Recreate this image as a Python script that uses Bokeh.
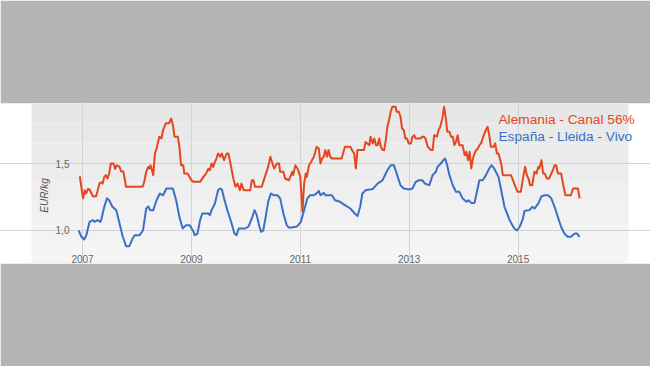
import numpy as np
from bokeh.plotting import figure
from bokeh.models import Range1d, FixedTicker, CustomJSTickFormatter, BoxAnnotation, Label
from bokeh.embed import file_html
from bokeh.resources import INLINE

# ---- data (decimal year, EUR/kg) ----
red_t = [2006.95, 2007.01, 2007.04, 2007.07, 2007.10, 2007.13, 2007.19, 2007.25, 2007.28, 2007.31,
         2007.34, 2007.37, 2007.40, 2007.43, 2007.46, 2007.49, 2007.52, 2007.57, 2007.60, 2007.63,
         2007.68, 2007.71, 2007.75, 2007.78, 2007.80, 2008.08, 2008.11, 2008.14, 2008.17, 2008.21,
         2008.23, 2008.25, 2008.30, 2008.33, 2008.36, 2008.41, 2008.45, 2008.48, 2008.53, 2008.59,
         2008.63, 2008.66, 2008.69, 2008.75, 2008.78, 2008.81, 2008.85, 2008.87, 2008.93, 2009.00,
         2009.04, 2009.16, 2009.22, 2009.27, 2009.31, 2009.34, 2009.37, 2009.40, 2009.43, 2009.46,
         2009.49, 2009.53, 2009.56, 2009.60, 2009.65, 2009.68, 2009.73, 2009.77, 2009.81, 2009.85,
         2009.89, 2009.92, 2009.96, 2010.08, 2010.11, 2010.14, 2010.17, 2010.29, 2010.35, 2010.41,
         2010.45, 2010.49, 2010.52, 2010.57, 2010.61, 2010.63, 2010.69, 2010.72, 2010.79, 2010.83,
         2010.85, 2010.87, 2010.91, 2010.95, 2011.00, 2011.04, 2011.07, 2011.10, 2011.12, 2011.16,
         2011.20, 2011.25, 2011.30, 2011.34, 2011.37, 2011.40, 2011.43, 2011.46, 2011.49, 2011.52,
         2011.55, 2011.58, 2011.76, 2011.82, 2011.92, 2011.95, 2011.99, 2012.02, 2012.05, 2012.17,
         2012.20, 2012.23, 2012.27, 2012.29, 2012.33, 2012.36, 2012.39, 2012.42, 2012.45, 2012.48,
         2012.51, 2012.54, 2012.57, 2012.60, 2012.63, 2012.66, 2012.69, 2012.75, 2012.77, 2012.81,
         2012.84, 2012.87, 2012.90, 2012.93, 2012.96, 2012.99, 2013.03, 2013.06, 2013.09, 2013.12,
         2013.21, 2013.24, 2013.27, 2013.30, 2013.34, 2013.40, 2013.43, 2013.46, 2013.51, 2013.54,
         2013.57, 2013.61, 2013.64, 2013.67, 2013.70, 2013.74, 2013.77, 2013.80, 2013.83, 2013.86,
         2013.89, 2013.92, 2013.98, 2014.02, 2014.05, 2014.08, 2014.11, 2014.14, 2014.17, 2014.20,
         2014.23, 2014.26, 2014.29, 2014.32, 2014.37, 2014.41, 2014.44, 2014.47, 2014.50, 2014.55,
         2014.58, 2014.61, 2014.64, 2014.69, 2014.72, 2014.84, 2014.87, 2014.93, 2014.99, 2015.05,
         2015.10, 2015.13, 2015.16, 2015.19, 2015.22, 2015.26, 2015.30, 2015.34, 2015.37, 2015.39,
         2015.43, 2015.46, 2015.49, 2015.53, 2015.57, 2015.61, 2015.64, 2015.67, 2015.70, 2015.73,
         2015.79, 2015.83, 2015.87, 2015.97, 2016.01, 2016.10, 2016.13]
red_v = [1.405, 1.24, 1.30, 1.276, 1.31, 1.306, 1.256, 1.256, 1.30, 1.35,
         1.36, 1.35, 1.40, 1.413, 1.388, 1.425, 1.50, 1.50, 1.46, 1.487,
         1.475, 1.44, 1.44, 1.375, 1.326, 1.326, 1.33, 1.375, 1.438, 1.475,
         1.463, 1.487, 1.413, 1.575, 1.61, 1.70, 1.687, 1.75, 1.80, 1.80,
         1.836, 1.786, 1.70, 1.70, 1.625, 1.487, 1.487, 1.425, 1.425, 1.375,
         1.363, 1.363, 1.40, 1.425, 1.46, 1.45, 1.50, 1.475, 1.51, 1.537,
         1.575, 1.55, 1.575, 1.525, 1.575, 1.575, 1.475, 1.388, 1.326, 1.35,
         1.30, 1.35, 1.30, 1.30, 1.375, 1.375, 1.326, 1.326, 1.40, 1.475,
         1.55, 1.50, 1.463, 1.50, 1.50, 1.438, 1.438, 1.388, 1.375, 1.413,
         1.438, 1.413, 1.487, 1.463, 1.40, 1.14, 1.35, 1.425, 1.40, 1.487,
         1.513, 1.55, 1.625, 1.612, 1.50, 1.537, 1.55, 1.60, 1.55, 1.60,
         1.55, 1.537, 1.537, 1.625, 1.625, 1.60, 1.575, 1.463, 1.60, 1.60,
         1.66, 1.65, 1.637, 1.70, 1.65, 1.687, 1.637, 1.637, 1.687, 1.625,
         1.60, 1.60, 1.674, 1.774, 1.824, 1.886, 1.923, 1.923, 1.886, 1.886,
         1.849, 1.761, 1.75, 1.687, 1.687, 1.65, 1.65, 1.70, 1.711, 1.687,
         1.687, 1.70, 1.70, 1.687, 1.625, 1.60, 1.60, 1.711, 1.70, 1.75,
         1.774, 1.836, 1.923, 1.849, 1.737, 1.737, 1.70, 1.70, 1.637, 1.662,
         1.711, 1.637, 1.637, 1.562, 1.587, 1.525, 1.587, 1.463, 1.537, 1.575,
         1.60, 1.61, 1.637, 1.65, 1.711, 1.75, 1.774, 1.711, 1.625, 1.625,
         1.65, 1.575, 1.575, 1.50, 1.413, 1.413, 1.413, 1.35, 1.289, 1.289,
         1.413, 1.475, 1.413, 1.388, 1.338, 1.338, 1.438, 1.425, 1.475, 1.463,
         1.525, 1.425, 1.425, 1.388, 1.388, 1.425, 1.45, 1.487, 1.487, 1.425,
         1.425, 1.338, 1.263, 1.263, 1.313, 1.313, 1.24]

blue_t = [2006.93, 2006.98, 2007.03, 2007.07, 2007.13, 2007.19, 2007.22, 2007.28, 2007.33, 2007.35,
          2007.40, 2007.45, 2007.49, 2007.55, 2007.62, 2007.68, 2007.74, 2007.80, 2007.86, 2007.92,
          2007.96, 2008.05, 2008.11, 2008.17, 2008.21, 2008.24, 2008.30, 2008.36, 2008.42, 2008.48,
          2008.54, 2008.66, 2008.72, 2008.78, 2008.84, 2008.90, 2008.97, 2009.04, 2009.06, 2009.11,
          2009.16, 2009.20, 2009.31, 2009.34, 2009.37, 2009.43, 2009.49, 2009.53, 2009.56, 2009.60,
          2009.66, 2009.73, 2009.79, 2009.83, 2009.87, 2009.92, 2009.99, 2010.05, 2010.11, 2010.16,
          2010.20, 2010.25, 2010.28, 2010.32, 2010.37, 2010.41, 2010.46, 2010.52, 2010.58, 2010.63,
          2010.69, 2010.75, 2010.79, 2010.85, 2010.94, 2011.01, 2011.07, 2011.13, 2011.18, 2011.25,
          2011.31, 2011.34, 2011.37, 2011.43, 2011.46, 2011.58, 2011.64, 2011.73, 2011.82, 2011.92,
          2012.00, 2012.05, 2012.10, 2012.14, 2012.20, 2012.33, 2012.42, 2012.51, 2012.60, 2012.66,
          2012.72, 2012.78, 2012.84, 2012.90, 2013.00, 2013.06, 2013.12, 2013.18, 2013.24, 2013.29,
          2013.37, 2013.43, 2013.49, 2013.52, 2013.58, 2013.63, 2013.66, 2013.69, 2013.74, 2013.80,
          2013.86, 2013.92, 2013.98, 2014.05, 2014.09, 2014.14, 2014.20, 2014.25, 2014.29, 2014.35,
          2014.41, 2014.47, 2014.51, 2014.56, 2014.64, 2014.69, 2014.75, 2014.81, 2014.84, 2014.93,
          2014.98, 2015.03, 2015.08, 2015.12, 2015.21, 2015.26, 2015.30, 2015.37, 2015.43, 2015.49,
          2015.55, 2015.61, 2015.67, 2015.73, 2015.79, 2015.85, 2015.91, 2015.97, 2016.04, 2016.08,
          2016.13]
blue_v = [1.0, 0.953, 0.933, 0.965, 1.065, 1.077, 1.065, 1.077, 1.065, 1.09,
          1.177, 1.24, 1.226, 1.177, 1.152, 1.052, 0.953, 0.883, 0.883, 0.94,
          0.965, 0.965, 1.0, 1.164, 1.18, 1.152, 1.152, 1.226, 1.276, 1.263,
          1.313, 1.313, 1.226, 1.10, 1.015, 1.04, 1.04, 0.99, 0.965, 0.975,
          1.077, 1.127, 1.127, 1.115, 1.152, 1.20, 1.30, 1.313, 1.306, 1.24,
          1.152, 1.065, 0.978, 0.965, 1.015, 1.015, 1.015, 1.03, 1.09, 1.152,
          1.115, 1.028, 0.99, 1.0, 1.115, 1.214, 1.276, 1.263, 1.263, 1.24,
          1.127, 1.04, 1.022, 1.022, 1.03, 1.065, 1.152, 1.24, 1.263, 1.263,
          1.281, 1.296, 1.263, 1.281, 1.263, 1.263, 1.226, 1.214, 1.189, 1.164,
          1.127, 1.107, 1.177, 1.276, 1.30, 1.31, 1.35, 1.375, 1.45, 1.487,
          1.487, 1.413, 1.338, 1.313, 1.306, 1.313, 1.363, 1.375, 1.375, 1.35,
          1.338, 1.413, 1.438, 1.475, 1.50, 1.525, 1.537, 1.50, 1.413, 1.338,
          1.289, 1.289, 1.24, 1.214, 1.226, 1.206, 1.206, 1.30, 1.375, 1.375,
          1.413, 1.463, 1.487, 1.463, 1.40, 1.30, 1.177, 1.115, 1.08, 1.015,
          1.0, 1.028, 1.077, 1.147, 1.152, 1.177, 1.164, 1.20, 1.256, 1.263,
          1.263, 1.24, 1.177, 1.102, 1.028, 0.978, 0.953, 0.953, 0.978, 0.978,
          0.953]

year_ticks = [2007, 2009, 2011, 2013, 2015]
value_ticks = [1.0, 1.5]
series_names = ["Alemania - Canal 56%", "España - Lleida - Vivo"]
y_title = "EUR/kg"

RED = "#e4471f"
BLUE = "#3b70c6"
FONT = "Liberation Sans"

x0, x1 = 2005.494, 2017.432
y0, y1 = 0.7537, 1.9478

p = figure(width=650, height=366, output_backend="svg", toolbar_location=None,
           x_range=Range1d(x0, x1), y_range=Range1d(y0, y1),
           min_border_left=0, min_border_right=0, min_border_top=103, min_border_bottom=103,
           background_fill_color="#ffffff", border_fill_color="#b4b4b4",
           outline_line_color=None)

# chart panel background (soft vertical gradient)
bx0, bx1 = 2006.063, 2017.028
shades = ["#e7e7e7", "#e9e9e9", "#ebebeb", "#ededed", "#efefef", "#f1f1f1", "#f3f3f3", "#f5f5f5"]
edges = np.linspace(y1, y0, len(shades) + 1)
for i, c in enumerate(shades):
    p.add_layout(BoxAnnotation(left=bx0, right=bx1, top=edges[i], bottom=edges[i + 1],
                               fill_color=c, fill_alpha=1.0, line_color=None, level="image"))

# axes placed inside the panel
p.xaxis.fixed_location = 0.881
p.yaxis.fixed_location = 2006.926
for ax in (p.xaxis[0], p.yaxis[0]):
    ax.axis_line_color = None
    ax.major_tick_line_color = None
    ax.minor_tick_line_color = None
    ax.major_label_text_font = FONT
    ax.major_label_text_font_size = "10px"
    ax.major_label_text_color = "#666666"
    ax.major_label_standoff = 3
p.xaxis.ticker = FixedTicker(ticks=year_ticks)
p.xaxis.formatter = CustomJSTickFormatter(code="return tick.toFixed(0);")
p.yaxis.ticker = FixedTicker(ticks=value_ticks)
p.yaxis.formatter = CustomJSTickFormatter(code="return tick.toFixed(1).replace('.', ',');")

p.xgrid.ticker = FixedTicker(ticks=year_ticks)
p.ygrid.ticker = FixedTicker(ticks=value_ticks)
p.xgrid.grid_line_color = "#d3d3d3"
p.ygrid.grid_line_color = "#d3d3d3"
p.ygrid.bounds = (bx0, bx1)

p.line(red_t, red_v, line_color=RED, line_width=2, line_join="round")
p.line(blue_t, blue_v, line_color=BLUE, line_width=2, line_join="round")

p.add_layout(Label(x=2014.640, y=1.828, text=series_names[0], text_color=RED,
                   text_font=FONT, text_font_size="13.7px", text_baseline="alphabetic"))
p.add_layout(Label(x=2014.640, y=1.7015, text=series_names[1], text_color=BLUE,
                   text_font=FONT, text_font_size="13.7px", text_baseline="alphabetic"))
p.add_layout(Label(x=2006.302, y=1.261, text=y_title, angle=np.pi / 2, text_color="#555555",
                   text_font=FONT, text_font_size="10px", text_font_style="italic",
                   text_align="center", text_baseline="middle"))

open("out.html", "w").write(file_html(p, INLINE, title="chart"))
